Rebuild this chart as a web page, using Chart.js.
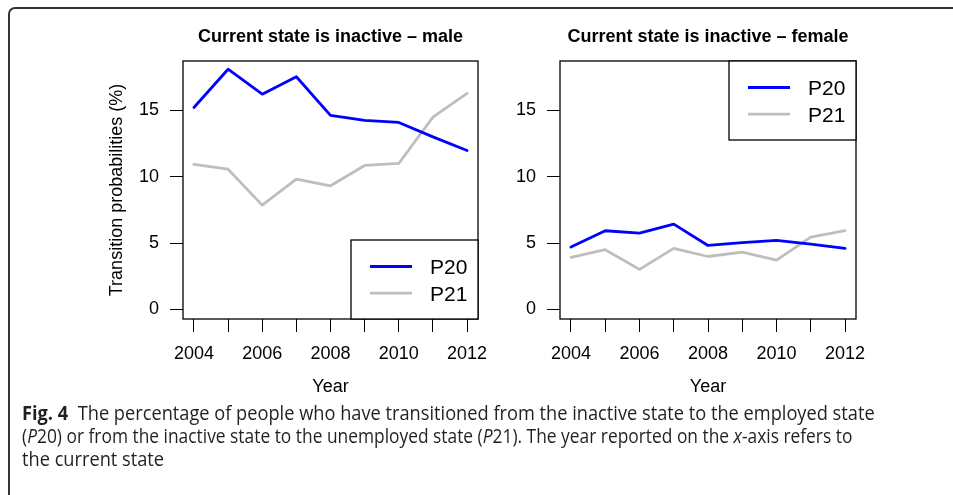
<!DOCTYPE html>
<html>
<head>
<meta charset="utf-8">
<script src="https://cdn.jsdelivr.net/npm/chart.js@4.4.0/dist/chart.umd.min.js"></script>
<style>
  html, body { margin: 0; padding: 0; background: #fff; overflow: hidden; }
  body { width: 953px; height: 495px; position: relative; }
  .frame { position: absolute; left: 8px; top: 7px; width: 1100px; height: 700px; border: 2px solid #333; border-radius: 7px; }
  #male { position: absolute; left: 0; top: 0; }
  #female { position: absolute; left: 490px; top: 0; }
  .caption { position: absolute; left: 22px; top: 401px; font-family: "Open Sans", sans-serif; font-size: 20px; color: #231f20; }
  .caption div { white-space: nowrap; transform-origin: 0 0; height: 23px; line-height: 23px; }
  .caption b { font-weight: 700; }
</style>
</head>
<body>
<div class="frame"></div>
<canvas id="male" width="520" height="400"></canvas>
<canvas id="female" width="463" height="400"></canvas>
<div class="caption">
  <div><b>Fig. 4</b>&nbsp; The percentage of people who have transitioned from the inactive state to the employed state</div>
  <div>(<i>P</i>20) or from the inactive state to the unemployed state (<i>P</i>21). The year reported on the <i>x</i>-axis refers to</div>
  <div>the current state</div>
</div>
<script>
const years = [2004, 2005, 2006, 2007, 2008, 2009, 2010, 2011, 2012];
const yearLabels = [2004, 2006, 2008, 2010, 2012];
const yTicks = [0, 5, 10, 15];

const maleP20 = [15.22, 18.1, 16.22, 17.53, 14.62, 14.24, 14.09, 13.0, 11.98];
const maleP21 = [10.93, 10.57, 7.86, 9.82, 9.32, 10.85, 11.0, 14.49, 16.28];
const femaleP20 = [4.70, 5.93, 5.75, 6.43, 4.82, 5.03, 5.20, 4.92, 4.60];
const femaleP21 = [3.92, 4.50, 3.02, 4.60, 3.99, 4.32, 3.72, 5.45, 5.93];

const FONT = "'Liberation Sans', Arial, sans-serif";
const tickFont = { family: FONT, size: 18 };

// box round the plot region, like R's box()
const panelBox = {
  id: "panelBox",
  afterDatasetsDraw(chart) {
    const { ctx, chartArea: a } = chart;
    ctx.save();
    ctx.strokeStyle = "#000";
    ctx.lineWidth = 1.3;
    ctx.strokeRect(a.left, a.top, a.right - a.left, a.bottom - a.top);
    ctx.restore();
  }
};

// legend sitting inside the plot corner
const insetLegend = {
  id: "insetLegend",
  afterDatasetsDraw(chart, args, opts) {
    const { ctx, chartArea: a } = chart;
    const w = 127, h = 79;
    const left = a.right - w;
    const top = opts.corner === "top" ? a.top : a.bottom - h;
    ctx.save();
    ctx.fillStyle = "#fff";
    ctx.fillRect(left, top, w, h);
    ctx.strokeStyle = "#000";
    ctx.lineWidth = 1.3;
    ctx.strokeRect(left, top, w, h);
    chart.data.datasets.forEach((ds, i) => {
      const y = top + 26.5 + i * 26.6;
      ctx.strokeStyle = ds.borderColor;
      ctx.lineWidth = ds.borderWidth;
      ctx.beginPath();
      ctx.moveTo(left + 19, y);
      ctx.lineTo(left + 61, y);
      ctx.stroke();
      ctx.fillStyle = "#000";
      ctx.font = "21px " + FONT;
      ctx.textAlign = "left";
      ctx.textBaseline = "middle";
      ctx.fillText(ds.label, left + 79, y + 2);
    });
    ctx.restore();
  }
};

function makeChart(id, p20, p21, opts) {
  return new Chart(document.getElementById(id), {
    type: "line",
    data: {
      datasets: [
        {
          label: "P20",
          data: years.map((yr, i) => ({ x: yr, y: p20[i] })),
          borderColor: "#0000ff",
          borderWidth: 2.8,
          pointRadius: 0,
          tension: 0,
          borderJoinStyle: "round",
          borderCapStyle: "round"
        },
        {
          label: "P21",
          data: years.map((yr, i) => ({ x: yr, y: p21[i] })),
          borderColor: "#bebebe",
          borderWidth: 2.8,
          pointRadius: 0,
          tension: 0,
          borderJoinStyle: "round",
          borderCapStyle: "round"
        }
      ]
    },
    options: {
      responsive: false,
      animation: false,
      layout: { padding: { left: 0, right: opts.padRight, top: 0, bottom: 0 } },
      plugins: {
        legend: { display: false },
        tooltip: { enabled: false },
        title: {
          display: true,
          text: opts.title,
          fullSize: false,
          color: "#000",
          font: { family: FONT, size: 18, weight: "bold" },
          padding: { top: 26, bottom: 13.4 }
        },
        insetLegend: { corner: opts.legendCorner }
      },
      scales: {
        x: {
          type: "linear",
          min: 2003.68,
          max: 2012.32,
          afterBuildTicks: s => { s.ticks = years.map(v => ({ value: v })); },
          afterFit: s => { s.height = 81; },
          ticks: {
            autoSkip: false,
            maxRotation: 0,
            color: "#000",
            font: tickFont,
            padding: 11,
            callback: v => (yearLabels.includes(v) ? String(v) : "")
          },
          grid: { drawOnChartArea: false, drawTicks: true, tickLength: 13, color: "#000", lineWidth: 1 },
          border: { display: false },
          title: { display: true, text: "Year", color: "#000", font: tickFont, padding: { top: 0, bottom: 2 } }
        },
        y: {
          min: -0.72,
          max: 18.72,
          afterBuildTicks: s => { s.ticks = yTicks.map(v => ({ value: v })); },
          afterFit: s => { s.width = opts.axisWidth; },
          ticks: { color: "#000", font: tickFont, padding: 11 },
          grid: { drawOnChartArea: false, drawTicks: true, tickLength: 13, color: "#000", lineWidth: 1 },
          border: { display: false },
          title: {
            display: !!opts.yTitle,
            text: opts.yTitle || "",
            color: "#000",
            font: tickFont,
            padding: { top: 106, bottom: 0 }
          }
        }
      }
    },
    plugins: [panelBox, insetLegend]
  });
}

makeChart("male", maleP20, maleP21, {
  title: "Current state is inactive \u2013 male",
  yTitle: "Transition probabilities (%)",
  axisWidth: 183,
  padRight: 42,
  legendCorner: "bottom"
});

makeChart("female", femaleP20, femaleP21, {
  title: "Current state is inactive \u2013 female",
  axisWidth: 70,
  padRight: 97,
  legendCorner: "top"
});

// squeeze each caption line to the width of the condensed original
const capLines = document.querySelectorAll(".caption div");
const capWidths = [871, 830];
const first = capWidths[0] / capLines[0].scrollWidth;
capLines.forEach((el, i) => {
  const k = capWidths[i] ? capWidths[i] / el.scrollWidth : first;
  el.style.transform = "scaleX(" + k + ")";
});
</script>
</body>
</html>
